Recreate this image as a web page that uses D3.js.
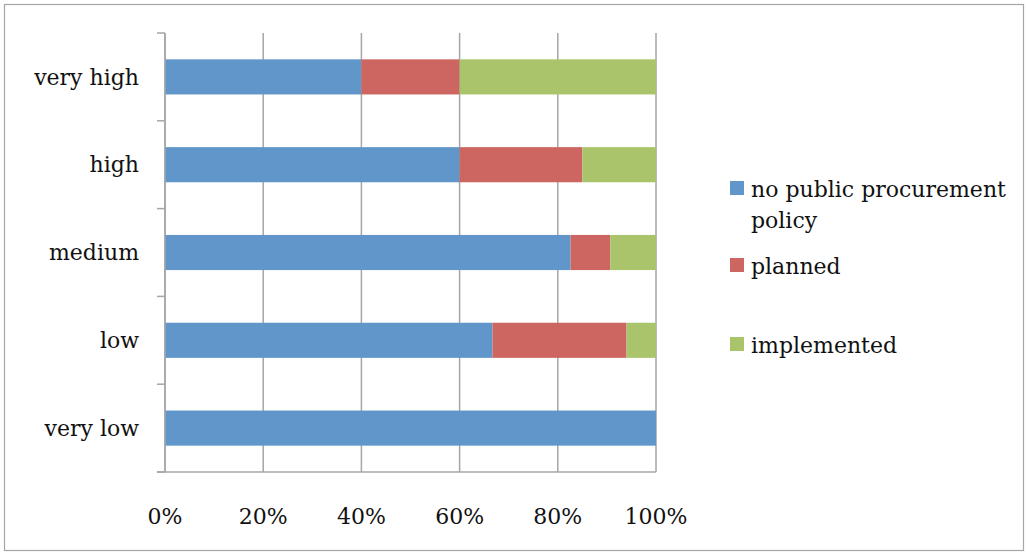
<!DOCTYPE html>
<html>
<head>
<meta charset="utf-8">
<script src="https://cdn.jsdelivr.net/npm/d3@7"></script>
<style>
  body { margin: 0; background: #fff; }
  svg text { font-family: "DejaVu Serif", "Liberation Serif", serif; fill: #111; }
</style>
</head>
<body>
<div id="chart"></div>
<script>
// categories from top to bottom
const categories = ["very high", "high", "medium", "low", "very low"];
const seriesNames = ["no public procurement policy", "planned", "implemented"];
const noPolicy = [40, 60, 82.6, 66.7, 100];
const planned = [20, 25, 8.1, 27.3, 0];
const implemented = [40, 15, 9.3, 6.0, 0];
const tickLabels = ["0%", "20%", "40%", "60%", "80%", "100%"];
const colours = ["#6096c9", "#cd6660", "#aac46b"];

const width = 1026, height = 554;
const margin = {top: 33, left: 165, right: 370, bottom: 82};

const svg = d3.select("#chart").append("svg")
  .attr("width", width)
  .attr("height", height);

// chart frame
svg.append("rect")
  .attr("x", 4.5).attr("y", 4.5)
  .attr("width", width - 7).attr("height", height - 8)
  .attr("fill", "none").attr("stroke", "#a6a6a6").attr("stroke-width", 1.2);

const x = d3.scaleLinear().domain([0, 100]).range([margin.left, width - margin.right]);
const y = d3.scaleBand().domain(categories).range([margin.top, height - margin.bottom]).paddingInner(0.6).paddingOuter(0.3);

const table = categories.map((c, i) => ({cat: c, a: noPolicy[i], b: planned[i], c2: implemented[i]}));
const stacked = d3.stack().keys(["a", "b", "c2"])(table);

// gridlines
svg.append("g")
  .selectAll("line")
  .data(d3.range(0, 101, 20))
  .join("line")
  .attr("x1", d => x(d)).attr("x2", d => x(d))
  .attr("y1", margin.top).attr("y2", height - margin.bottom)
  .attr("stroke", "#a6a6a6").attr("stroke-width", 1.5);

// bars
svg.append("g")
  .selectAll("g")
  .data(stacked)
  .join("g")
  .attr("fill", (d, i) => colours[i])
  .selectAll("rect")
  .data(d => d)
  .join("rect")
  .attr("x", d => x(d[0]))
  .attr("y", d => y(d.data.cat))
  .attr("width", d => x(d[1]) - x(d[0]))
  .attr("height", y.bandwidth());

// y axis with ticks between categories
const bandEdges = d3.range(categories.length + 1).map(i => margin.top + i * y.step());
const yAxis = svg.append("g");
yAxis.append("line")
  .attr("x1", margin.left).attr("x2", margin.left)
  .attr("y1", margin.top).attr("y2", height - margin.bottom)
  .attr("stroke", "#a6a6a6").attr("stroke-width", 1.5);
yAxis.selectAll(".tk")
  .data(bandEdges)
  .join("line")
  .attr("x1", margin.left - 8).attr("x2", margin.left)
  .attr("y1", d => d).attr("y2", d => d)
  .attr("stroke", "#a6a6a6").attr("stroke-width", 1.5);
yAxis.selectAll("text")
  .data(categories)
  .join("text")
  .attr("x", 139)
  .attr("y", d => y(d) + y.bandwidth() / 2)
  .attr("dy", "0.35em")
  .attr("text-anchor", "end")
  .attr("font-size", 22)
  .text(d => d);

// x axis line and labels
svg.append("line")
  .attr("x1", margin.left - 8).attr("x2", x(100))
  .attr("y1", height - margin.bottom).attr("y2", height - margin.bottom)
  .attr("stroke", "#a6a6a6").attr("stroke-width", 1.5);
svg.append("g")
  .selectAll("text")
  .data(tickLabels)
  .join("text")
  .attr("x", (d, i) => x(i * 20))
  .attr("y", 516)
  .attr("dy", "0.35em")
  .attr("text-anchor", "middle")
  .attr("font-size", 22)
  .text(d => d);

// legend
const legendRows = [
  {lines: ["no public procurement", "policy"], top: 181},
  {lines: ["planned"], top: 258},
  {lines: ["implemented"], top: 337}
];
const legend = svg.append("g");
legendRows.forEach((r, i) => {
  legend.append("rect")
    .attr("x", 730).attr("y", r.top)
    .attr("width", 14).attr("height", 14)
    .attr("fill", colours[i]);
  r.lines.forEach((t, j) => {
    legend.append("text")
      .attr("x", 751)
      .attr("y", r.top + 16 + j * 31)
      .attr("font-size", 22)
      .text(t);
  });
});
</script>
</body>
</html>
